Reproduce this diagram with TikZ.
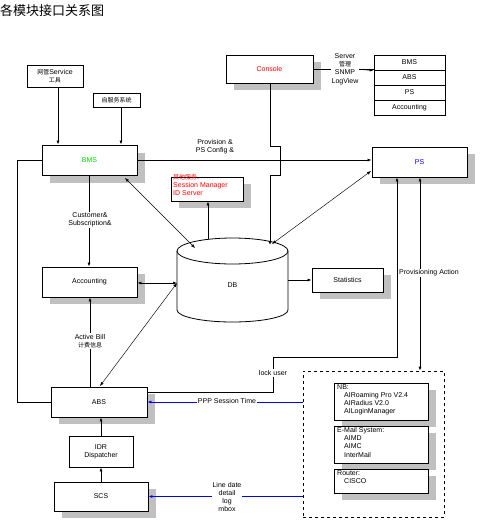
\documentclass[tikz,border=0pt]{standalone}
\usepackage{fontspec}
\setmainfont{Liberation Sans}
\newfontfamily\cjk{Noto Sans CJK SC}
\usetikzlibrary{arrows.meta,calc}
\definecolor{bmsgreen}{RGB}{0,220,0}
\definecolor{shadowgray}{RGB}{192,192,192}
\newcommand{\zh}[1]{{\cjk\fontsize{6}{8.3}\selectfont #1}}
\begin{document}
\begin{tikzpicture}[x=1pt,y=-1pt,
  every node/.style={font=\fontsize{7}{8.3}\selectfont, inner sep=1pt},
  box/.style={draw, line width=0.8pt, fill=white, inner sep=0pt},
  plain/.style={draw, line width=0.8pt, fill=white, inner sep=0pt},
  shade/.style={fill=shadowgray, draw=none},
  conn/.style={line width=0.7pt},
  thinc/.style={line width=0.45pt},
  >={Latex[length=4pt,width=3pt]},
  lbl/.style={fill=white, align=center, inner sep=1pt}]
\useasboundingbox (0,0) rectangle (483,528);

% shadows (drawn first, behind the boxes)
\path[shade] (50,153) rectangle (145,183);   % BMS
\path[shade] (234,62) rectangle (321,90);    % Console
\path[shade] (380,154) rectangle (475,184);  % PS
\path[shade] (179,184) rectangle (251,208);  % other services
\path[shade] (320,275) rectangle (391,299);  % Statistics
\path[shade] (50,274) rectangle (145,304);   % Accounting
\path[shade] (59,394) rectangle (155,424);   % ABS
\path[shade] (62,489) rectangle (156,518);   % SCS
\path[shade] (342,390) rectangle (436,427);  % NB
\path[shade] (342,433) rectangle (436,470);  % E-Mail
\path[shade] (342,476) rectangle (436,500);  % Router

% title
\node[anchor=west, inner sep=0pt] (title) at (0,11) {\cjk\fontsize{13}{13}\selectfont 各模块接口关系图};

% top tool boxes
\node[plain, minimum width=56, minimum height=22, align=center] (tool) at (55,76) {\zh{网管}Service\\\zh{工具}};
\node[plain, minimum width=47, minimum height=14] (self) at (116.5,100) {\zh{自服务系统}};

% main boxes
\node[box, minimum width=95, minimum height=30] (bms) at (89.5,160) {\textcolor{bmsgreen}{BMS}};
\node[box, minimum width=87, minimum height=28] (console) at (269.5,69) {\textcolor{red}{Console}};
\node[box, minimum width=95, minimum height=30] (ps) at (419.5,162) {\textcolor{blue}{PS}};
\node[box, minimum width=72, minimum height=24] (oth) at (207,189) {};
\node[anchor=north west, align=left, inner sep=0pt, text=red] (othtxt) at (173,174) {\zh{其他服务}.\\Session Manager\\ID Server};
\node[box, minimum width=71, minimum height=24] (stats) at (347.5,280) {Statistics};
\node[box, minimum width=95, minimum height=30] (acc) at (89.5,282) {Accounting};
\node[box, minimum width=96, minimum height=30] (abs) at (99,402) {ABS};
\node[plain, minimum width=64, minimum height=31, align=center] (idr) at (101,451.5) {IDR\\Dispatcher};
\node[box, minimum width=94, minimum height=29] (scs) at (101,496.5) {SCS};

% list of managed modules
\node[plain, minimum width=71, minimum height=15] (l1) at (409.5,62.5) {BMS};
\node[plain, minimum width=71, minimum height=15] (l2) at (409.5,77.5) {ABS};
\node[plain, minimum width=71, minimum height=15] (l3) at (409.5,92.5) {PS};
\node[plain, minimum width=71, minimum height=15] (l4) at (409.5,107.5) {Accounting};

% external systems
\node[draw, dashed, line width=0.7pt, minimum width=141, minimum height=146, inner sep=0pt] (ext) at (373.5,444) {};
\node[box, minimum width=94, minimum height=37] (nb) at (381,401.5) {};
\node[anchor=north west, align=left, inner sep=0pt] (nbtxt) at (337,384) {NB:\\\hspace*{7pt}AIRoaming Pro V2.4\\\hspace*{7pt}AIRadius V2.0\\\hspace*{7pt}AILoginManager};
\node[box, minimum width=94, minimum height=37] (mail) at (381,444.5) {};
\node[anchor=north west, align=left, inner sep=0pt] (mailtxt) at (337,427) {E-Mail System:\\\hspace*{7pt}AIMD\\\hspace*{7pt}AIMC\\\hspace*{7pt}InterMail};
\node[box, minimum width=94, minimum height=24] (router) at (381,481) {};
\node[anchor=north west, align=left, inner sep=0pt] (routertxt) at (337,470) {Router:\\\hspace*{7pt}CISCO};

% DB cylinder
\path[fill=white, draw, line width=0.8pt] (177,251) -- (177,310)
  arc[start angle=180, end angle=360, x radius=55.5pt, y radius=12pt] -- (288,251);
\draw[line width=0.8pt, fill=white] (232.5,251) ellipse [x radius=55.5pt, y radius=13pt];
\node (db) at (232.5,285) {DB};
\coordinate (dbl) at (177,283);
\coordinate (dbtl) at (195,248);
\coordinate (dbtr) at (272,244);
\coordinate (dbt) at (208,239);
\coordinate (dbr) at (288,280);
\coordinate (dbtc) at (270,245);
\coordinate (bmsd) at (125,178);
\coordinate (psd) at (371,171);
\coordinate (absd) at (100,386);
\coordinate (lk) at (147,392);

% connectors
\draw[conn,->] (tool.south -| 58,0) -- (bms.north -| 58,0);
\draw[conn,->] (self.south -| 121,0) -- (bms.north -| 121,0);
\draw[conn,->] (bms.east) -- (bms.east -| ps.west);
\draw[conn] (console.east) -- (console.east -| l1.west);
\draw[conn,->] (355,69) -- (l1.south west);
\draw[conn,->] (console.south -| 270,0) -- (270,146) -- (280,146) -- (280,175) -- (270,175) -- (dbtc);
\draw[thinc,<->] (bmsd) -- (dbtl);
\draw[thinc,<->] (psd) -- (dbtr);
\draw[conn,->] (dbt) -- (dbt |- oth.south);
\draw[conn,<->] (acc.east |- dbl) -- (dbl);
\draw[thinc,<->] (absd) -- (dbl);
\draw[conn,->] (dbr) -- (dbr -| stats.west);
\draw[conn,->] (bms.south -| 89,0) -- (acc.north -| 89,0);
\draw[conn,->] (abs.north -| 90,0) -- (acc.south -| 90,0);
\draw[conn] (bms.west) -- ++(-24,0) |- (abs.west);
\draw[conn,->] (idr.north) -- (idr.north |- abs.south);
\draw[conn,->] (scs.north -| idr.south) -- (idr.south);
\draw[conn,->] (lk) -- (273,392) -- (273,357) -- (397,357) -- (397,357 |- ps.south);
\draw[conn,<->] (420,177 |- ps.south) -- (420,0 |- ext.north);
\draw[conn,blue,->] (ext.west |- abs.east) -- (abs.east);
\draw[conn,blue,->] (ext.west |- scs.east) -- (scs.east);

% labels
\node[lbl] (srv) at (345,69) {Server\\\zh{管理}\\SNMP\\LogView};
\node[align=center] (prov) at (215,147) {Provision \&\\PS Config \&};
\node[lbl] (cust) at (90,220) {Customer\&\\Subscription\&};
\node[lbl] (bill) at (90,341) {Active Bill\\\zh{计费信息}};
\node[lbl] (lock) at (273,373) {lock user};
\node[lbl] (pact) at (429,273) {Provisioning Action};
\node[lbl] (ppp) at (227,401) {PPP Session Time};
\node[lbl] (ldata) at (227,497) {Line date\\detail\\log\\mbox};
\end{tikzpicture}
\end{document}
